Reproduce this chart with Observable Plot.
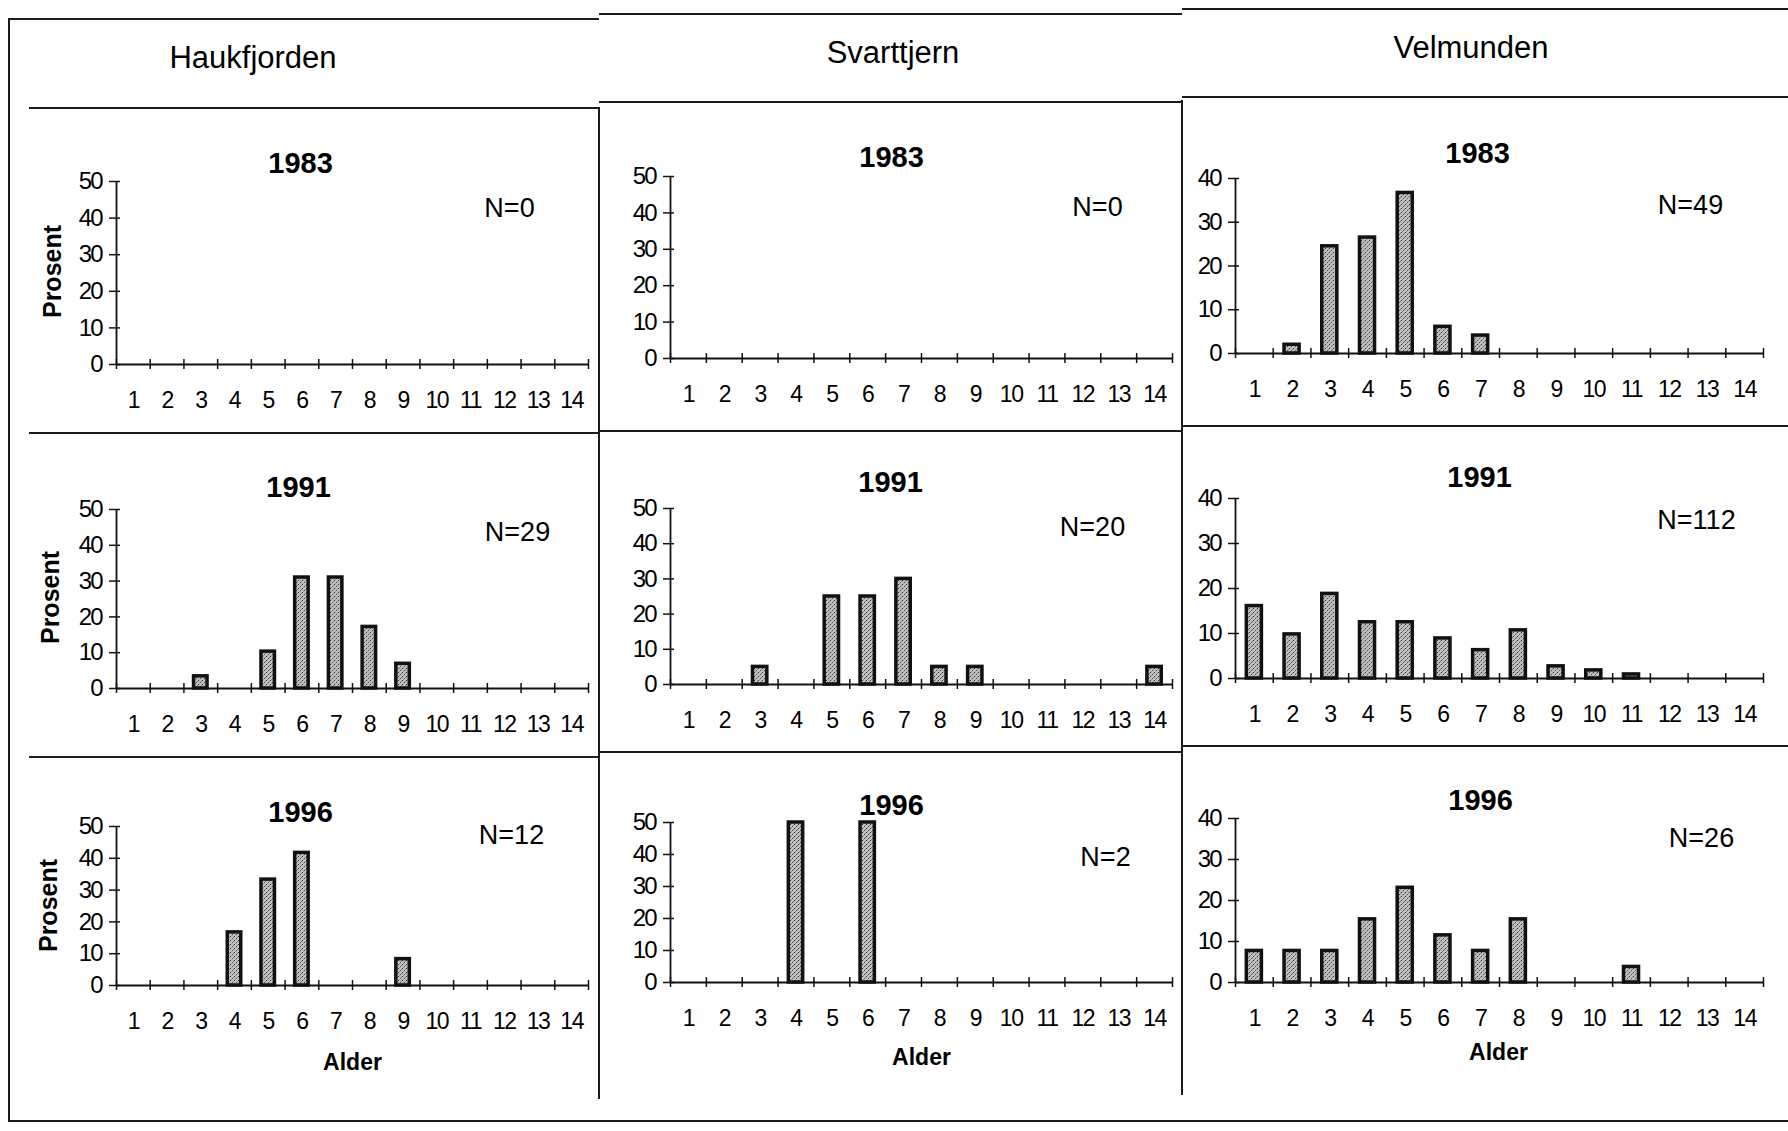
<!DOCTYPE html>
<html>
<head>
<meta charset="utf-8">
<script src="https://cdn.jsdelivr.net/npm/d3@7"></script>
<script src="https://cdn.jsdelivr.net/npm/@observablehq/plot@0.6"></script>
<style>
  body { margin: 0; background: #fff; }
  #page { position: relative; width: 1788px; height: 1131px; background: #fff; overflow: hidden;
          font-family: "Liberation Sans", Arial, sans-serif; color: #000; }
  .ln { position: absolute; background: #1c1c1c; }
  .coltitle { position: absolute; transform: translate(-50%, -50%); font-size: 31px; white-space: nowrap; line-height: 1; }
  .panel { position: absolute; }
  g[aria-label="year"] text { letter-spacing: -2px; }
  g[aria-label="n"] text { letter-spacing: -1.5px; }
  g[aria-label="alder"] text { letter-spacing: -1px; }
  g[aria-label="x-axis tick label"] text { letter-spacing: -1.5px; }
  g[aria-label="y-axis tick label"] text { letter-spacing: -2px; }
</style>
</head>
<body>
<svg width="0" height="0" style="position:absolute">
  <defs>
    <pattern id="stipple" width="4" height="4" patternUnits="userSpaceOnUse">
      <rect width="4" height="4" fill="#c0c0c0"></rect>
      <rect x="0" y="0" width="1" height="1" fill="#2e2e2e"></rect>
      <rect x="2" y="2" width="1" height="1" fill="#4a4a4a"></rect>
      <rect x="3" y="1" width="1" height="1" fill="#888"></rect>
      <rect x="1" y="3" width="1" height="1" fill="#999"></rect>
    </pattern>
  </defs>
</svg>
<div id="page"></div>
<script>
// ---------------- DATA ----------------
const ages = [1, 2, 3, 4, 5, 6, 7, 8, 9, 10, 11, 12, 13, 14];
const lakes = ["Haukfjorden", "Svarttjern", "Velmunden"];
const years = ["1983", "1991", "1996"];
const yLabel = "Prosent";
const xLabel = "Alder";

const nHaukfjorden = [0, 29, 12];
const nSvarttjern = [0, 20, 2];
const nVelmunden = [49, 112, 26];

const yTicksHaukfjorden = [0, 10, 20, 30, 40, 50];
const yTicksSvarttjern = [0, 10, 20, 30, 40, 50];
const yTicksVelmunden = [0, 10, 20, 30, 40];

// percent per age (aligned with ages)
const haukfjorden1983 = [0, 0, 0, 0, 0, 0, 0, 0, 0, 0, 0, 0, 0, 0];
const haukfjorden1991 = [0, 0, 3.4, 0, 10.3, 31.0, 31.0, 17.2, 6.9, 0, 0, 0, 0, 0];
const haukfjorden1996 = [0, 0, 0, 16.7, 33.3, 41.7, 0, 0, 8.3, 0, 0, 0, 0, 0];

const svarttjern1983 = [0, 0, 0, 0, 0, 0, 0, 0, 0, 0, 0, 0, 0, 0];
const svarttjern1991 = [0, 0, 5, 0, 25, 25, 30, 5, 5, 0, 0, 0, 0, 5];
const svarttjern1996 = [0, 0, 0, 50, 0, 50, 0, 0, 0, 0, 0, 0, 0, 0];

const velmunden1983 = [0, 2.0, 24.5, 26.5, 36.7, 6.1, 4.1, 0, 0, 0, 0, 0, 0, 0];
const velmunden1991 = [16.1, 9.8, 18.8, 12.5, 12.5, 8.9, 6.3, 10.7, 2.7, 1.8, 0.9, 0, 0, 0];
const velmunden1996 = [7.7, 7.7, 7.7, 15.4, 23.1, 11.5, 7.7, 15.4, 0, 0, 3.8, 0, 0, 0];

// ---------------- LAYOUT (pixels, page coordinates) ----------------
const page = document.getElementById("page");
function line(x, y, w, h) {
  const d = document.createElement("div");
  d.className = "ln";
  Object.assign(d.style, {left: x + "px", top: y + "px", width: w + "px", height: h + "px"});
  page.appendChild(d);
}
// outer border & grid (slightly tilted scan -> per-column segments)
line(8, 18, 591, 2); line(599, 13, 583, 2); line(1182, 8, 606, 2);
line(8, 18, 2, 1104);
line(29, 107, 570, 2); line(599, 101, 583, 2); line(1182, 96, 606, 2);
line(29, 432, 570, 2); line(599, 430, 583, 2); line(1182, 425, 606, 2);
line(29, 756, 570, 2); line(599, 751, 583, 2); line(1182, 745, 606, 2);
line(598, 107, 2, 992); line(1181, 100, 2, 995);
line(8, 1120, 1780, 2);

const titlePos = [[253, 57], [893, 52], [1471, 47]];
lakes.forEach((name, i) => {
  const t = document.createElement("div");
  t.className = "coltitle";
  t.textContent = name;
  t.style.left = titlePos[i][0] + "px";
  t.style.top = titlePos[i][1] + "px";
  page.appendChild(t);
});

const seriesByLake = [
  [haukfjorden1983, haukfjorden1991, haukfjorden1996],
  [svarttjern1983, svarttjern1991, svarttjern1996],
  [velmunden1983, velmunden1991, velmunden1996]
];
const nByLake = [nHaukfjorden, nSvarttjern, nVelmunden];
const ticksByLake = [yTicksHaukfjorden, yTicksSvarttjern, yTicksVelmunden];

// svg boxes
const colBox = [[10, 586], [602, 577], [1185, 600]];
const rowBox = [[112, 316], [436, 308], [760, 335]];
// frame (x0, x1) per column, (yTop, yZero) per panel
const frameX = [[116, 588], [670, 1172], [1235, 1763]];
const frameY = [
  [[181, 364], [509, 688], [826, 985]],
  [[176, 358], [508, 684], [822, 982]],
  [[178, 353], [498, 678], [818, 982]]
];
const yearPos = [
  [[300, 163], [298, 487], [300, 812]],
  [[891, 157], [890, 482], [891, 805]],
  [[1477, 153], [1479, 477], [1480, 800]]
];
const nPos = [
  [[509, 208], [517, 532], [511, 835]],
  [[1097, 207], [1092, 527], [1105, 857]],
  [[1690, 205], [1696, 520], [1701, 838]]
];
const prosentPos = [[52, 271], [50, 597], [48, 905]];
const alderPos = [[352, 1062], [921, 1057], [1498, 1052]];

const bounds = ages.map(a => a - 0.5).concat([ages[ages.length - 1] + 0.5]);
const xDomain = [bounds[0], bounds[bounds.length - 1]];

for (let c = 0; c < 3; c++) {
  for (let r = 0; r < 3; r++) {
    const [left, w] = colBox[c];
    const [top, h] = rowBox[r];
    const [fx0, fx1] = frameX[c];
    const [fyTop, fyZero] = frameY[c][r];
    const yTicks = ticksByLake[c];
    const yMax = yTicks[yTicks.length - 1];
    const vals = seriesByLake[c][r];
    const data = ages.map((a, i) => ({age: a, pct: vals[i]})).filter(d => d.pct > 0);
    const ox = fx0, oy = fyTop;
    const txt = {frameAnchor: "top-left", textAnchor: "middle", lineAnchor: "middle", fill: "#000"};

    const marks = [
      Plot.ruleY([0], {x1: xDomain[0], x2: xDomain[1], stroke: "#111", strokeWidth: 1.8}),
      Plot.ruleX([xDomain[0]], {y1: 0, y2: yMax, stroke: "#111", strokeWidth: 1.8}),
      Plot.ruleX(bounds, {x: d => d, y1: 0, y2: 0, insetTop: -5, insetBottom: -5, stroke: "#111", strokeWidth: 1.5}),
      Plot.ruleY(yTicks, {y: d => d, x1: xDomain[0], x2: xDomain[0], insetLeft: -7, insetRight: -4, stroke: "#111", strokeWidth: 1.5}),
      Plot.rectY(data, {x1: d => d.age - 0.2, x2: d => d.age + 0.2, y: "pct",
        fill: "url(#stipple)", stroke: "#111", strokeWidth: 3.5}),
      Plot.axisX(ages, {tickSize: 0, tickPadding: 27, fontSize: 23, label: null}),
      Plot.axisY(yTicks, {tickSize: 0, tickPadding: 15, fontSize: 24, label: null}),
      Plot.text([years[r]], {...txt, ariaLabel: "year",
        dx: yearPos[c][r][0] - ox, dy: yearPos[c][r][1] - oy,
        fontSize: 29, fontWeight: "bold"}),
      Plot.text(["N=" + nByLake[c][r]], {...txt, ariaLabel: "n",
        dx: nPos[c][r][0] - ox, dy: nPos[c][r][1] - oy, fontSize: 27})
    ];
    if (c === 0) {
      marks.push(Plot.text([yLabel], {...txt, ariaLabel: "prosent",
        dx: prosentPos[r][0] - ox, dy: prosentPos[r][1] - oy, rotate: -90,
        fontSize: 25, fontWeight: "bold"}));
    }
    if (r === 2) {
      marks.push(Plot.text([xLabel], {...txt, ariaLabel: "alder",
        dx: alderPos[c][0] - ox, dy: alderPos[c][1] - oy,
        fontSize: 23, fontWeight: "bold"}));
    }

    const svg = Plot.plot({
      width: w,
      height: h,
      marginLeft: fx0 - left,
      marginRight: left + w - fx1,
      marginTop: fyTop - top,
      marginBottom: top + h - fyZero,
      x: {type: "linear", domain: xDomain},
      y: {type: "linear", domain: [0, yMax]},
      style: {fontFamily: "Liberation Sans, Arial, sans-serif", color: "#000",
              background: "transparent", overflow: "visible"},
      marks
    });
    const holder = document.createElement("div");
    holder.className = "panel";
    Object.assign(holder.style, {left: left + "px", top: top + "px", width: w + "px", height: h + "px"});
    holder.appendChild(svg);
    page.appendChild(holder);
  }
}
</script>
</body>
</html>
